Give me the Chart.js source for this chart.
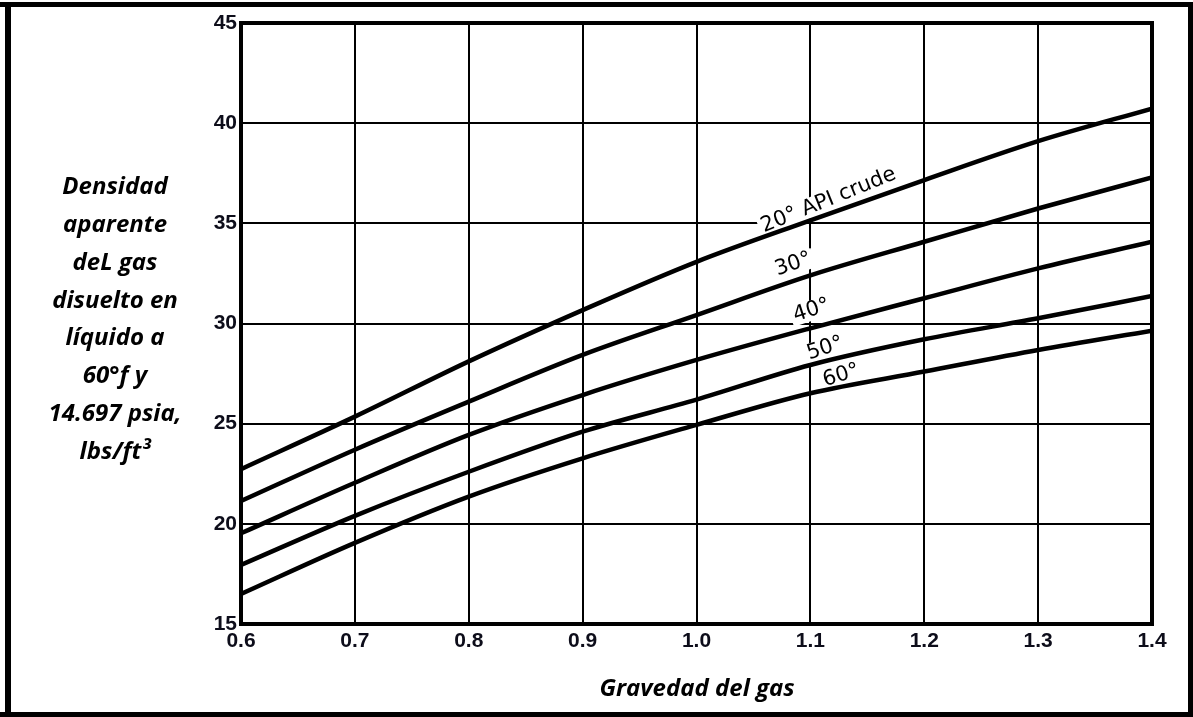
<!DOCTYPE html>
<html>
<head>
<meta charset="utf-8">
<script src="https://cdn.jsdelivr.net/npm/chart.js@4"></script>
<style>
  html, body { margin: 0; padding: 0; background: #fff; }
  #chart { display: block; }
</style>
</head>
<body>
<canvas id="chart" width="1193" height="717"></canvas>
<script>
// gas gravity (x) and apparent density curves for each crude API
const gravity = [0.6, 0.7, 0.8, 0.9, 1.0, 1.1, 1.2, 1.3, 1.4];
const api20 = [22.73, 25.35, 28.11, 30.67, 33.08, 35.15, 37.16, 39.1, 40.73];
const api30 = [21.14, 23.7, 26.1, 28.43, 30.42, 32.4, 34.08, 35.74, 37.29];
const api40 = [19.53, 22.05, 24.44, 26.43, 28.18, 29.76, 31.26, 32.75, 34.08];
const api50 = [17.95, 20.4, 22.6, 24.6, 26.2, 27.93, 29.21, 30.26, 31.37];
const api60 = [16.5, 19.05, 21.36, 23.27, 24.94, 26.52, 27.6, 28.68, 29.64];

const xTicks = [0.6, 0.7, 0.8, 0.9, 1.0, 1.1, 1.2, 1.3, 1.4];
const yTicks = [15, 20, 25, 30, 35, 40, 45];

const curveLabels = ['20° API crude', '30°', '40°', '50°', '60°'];
const yTitle = ['Densidad', 'aparente', 'deL gas', 'disuelto en', 'líquido a', '60°f y', '14.697 psia,', 'lbs/ft³'];
const xTitle = 'Gravedad del gas';

const series = [api20, api30, api40, api50, api60];

function toPoints(arr) {
    return gravity.map((g, i) => ({ x: g, y: arr[i] }));
}

// where the curve names sit (data coords) and their tilt
const labelSpots = [
    { x: 1.116, y: 36.15, rot: -22 },
    { x: 1.085, y: 32.95, rot: -19 },
    { x: 1.101, y: 30.65, rot: -18 },
    { x: 1.113, y: 28.75, rot: -18 },
    { x: 1.127, y: 27.4, rot: -17 }
];

const decor = {
    id: 'decor',
    beforeDatasetsDraw(chart) {
        const ctx = chart.ctx;
        const xs = chart.scales.x, ys = chart.scales.y;
        ctx.save();
        ctx.font = "21px 'DejaVu Sans'";
        ctx.textAlign = 'center';
        ctx.textBaseline = 'middle';
        curveLabels.forEach((txt, i) => {
            const s = labelSpots[i];
            const px = xs.getPixelForValue(s.x);
            const py = ys.getPixelForValue(s.y);
            ctx.save();
            ctx.translate(px, py);
            ctx.rotate(s.rot * Math.PI / 180);
            const w = ctx.measureText(txt).width;
            ctx.fillStyle = '#fff';
            ctx.fillRect(-w / 2 - 3, -10, w + 6, 20);
            ctx.fillStyle = '#000';
            ctx.fillText(txt, 0, 0);
            ctx.restore();
        });
        ctx.restore();
    },
    afterDraw(chart) {
        const ctx = chart.ctx;
        const a = chart.chartArea;
        ctx.save();
        // plot frame
        ctx.strokeStyle = '#000';
        ctx.lineWidth = 4;
        ctx.strokeRect(a.left, a.top, a.right - a.left, a.bottom - a.top);
        // outer frame
        ctx.fillStyle = '#000';
        ctx.fillRect(0, 2, 1193, 5);
        ctx.fillRect(0, 712, 1193, 5);
        ctx.fillRect(5, 2, 6, 715);
        ctx.fillRect(1188, 2, 5, 715);
        // axis titles
        ctx.font = "italic bold 24px 'Open Sans'";
        ctx.textAlign = 'center';
        ctx.textBaseline = 'middle';
        yTitle.forEach((line, i) => ctx.fillText(line, 115, 187 + i * 37.9));
        ctx.fillText(xTitle, 697, 689);
        ctx.restore();
    }
};

const config = {
    type: 'line',
    data: {
        datasets: series.map((arr, i) => ({
            label: curveLabels[i],
            data: toPoints(arr),
            borderColor: '#000',
            borderWidth: 4.5,
            pointRadius: 0,
            fill: false,
            cubicInterpolationMode: 'monotone'
        }))
    },
    options: {
        responsive: false,
        animation: false,
        layout: { padding: { left: 190, right: 41, top: 23, bottom: 53 } },
        plugins: {
            legend: { display: false },
            tooltip: { enabled: false },
            title: { display: false }
        },
        scales: {
            x: {
                type: 'linear',
                min: 0.6,
                max: 1.4,
                afterBuildTicks: s => { s.ticks = xTicks.map(v => ({ value: v })); },
                afterFit: s => { s.height = 40; },
                grid: { color: '#000', lineWidth: 2, drawTicks: false },
                border: { color: '#000', width: 4 },
                ticks: {
                    padding: 5,
                    color: '#0d0d1a',
                    font: { family: "'Liberation Sans'", weight: 'bold', size: 21 },
                    callback: v => v.toFixed(1)
                }
            },
            y: {
                type: 'linear',
                min: 15,
                max: 45,
                afterBuildTicks: s => { s.ticks = yTicks.map(v => ({ value: v })); },
                afterFit: s => { s.width = 51; },
                grid: { color: '#000', lineWidth: 2, drawTicks: false },
                border: { color: '#000', width: 4 },
                ticks: {
                    padding: 4,
                    color: '#0d0d1a',
                    font: { family: "'Liberation Sans'", weight: 'bold', size: 21 }
                }
            }
        }
    },
    plugins: [decor]
};

new Chart(document.getElementById('chart'), config);
</script>
</body>
</html>
